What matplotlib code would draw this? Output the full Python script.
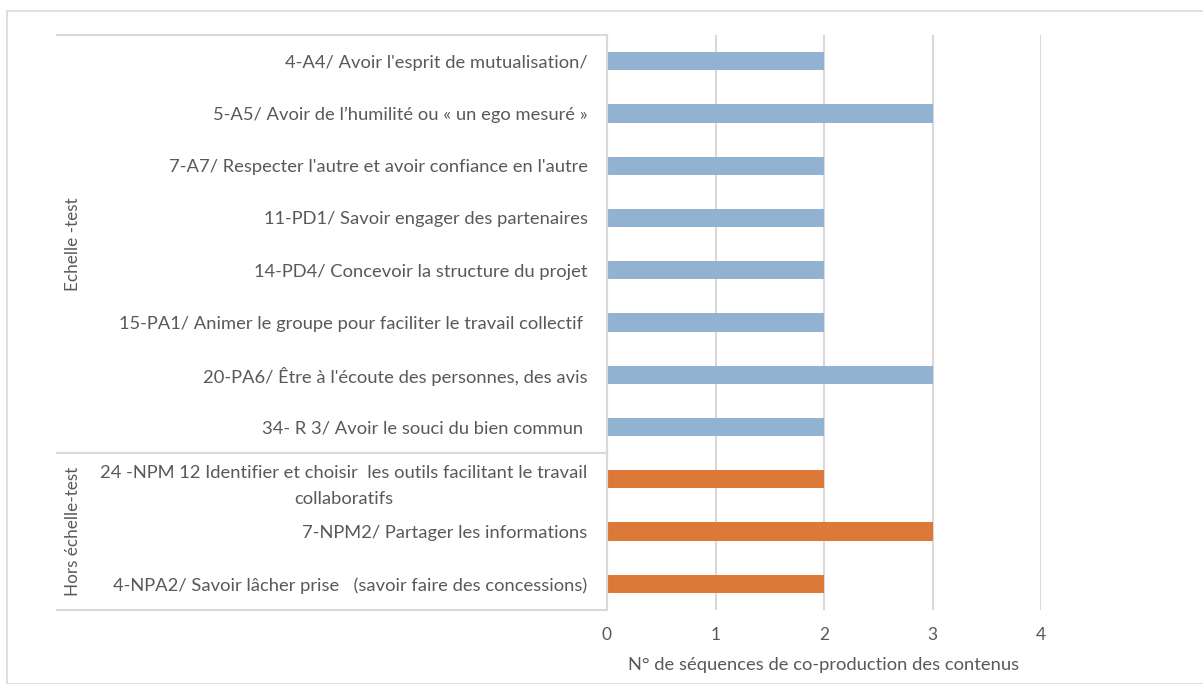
import numpy as np
import matplotlib.pyplot as plt
from matplotlib.patches import Rectangle
from matplotlib.transforms import blended_transform_factory

plt.rcParams["font.family"] = ["Lato", "DejaVu Sans"]

# --- Data (top to bottom, as shown) ---
LABELS = [
    "4-A4/ Avoir l'esprit de mutualisation/",
    "5-A5/ Avoir de l\u2019humilit\u00e9 ou \u00ab un ego mesur\u00e9 \u00bb",
    "7-A7/ Respecter l'autre et avoir confiance en l'autre",
    "11-PD1/ Savoir engager des partenaires",
    "14-PD4/ Concevoir la structure du projet",
    "15-PA1/ Animer le groupe pour faciliter le travail collectif ",
    "20-PA6/ \u00catre \u00e0 l'\u00e9coute des personnes, des avis",
    "34- R 3/ Avoir le souci du bien commun ",
    "24 -NPM 12 Identifier et choisir  les outils facilitant le travail\ncollaboratifs",
    "7-NPM2/ Partager les informations",
    "4-NPA2/ Savoir l\u00e2cher prise   (savoir faire des concessions)",
]
VALUES = [2, 3, 2, 2, 2, 2, 3, 2, 2, 3, 2]
GROUPS = ["Echelle -test", "Hors \u00e9chelle-test"]
GROUP_SIZES = [8, 3]

COLORS = {"Echelle -test": "#91B3D1", "Hors \u00e9chelle-test": "#DC7938"}
TEXT = "#595959"
LINE = "#D9D9D9"
FS = 13.2

fig = plt.figure(figsize=(12.03, 6.84), dpi=100)
ax = fig.add_axes([607 / 1203, 1 - 610 / 684, 434 / 1203, 575 / 684])

group_of = []
for g, n in zip(GROUPS, GROUP_SIZES):
    group_of += [g] * n
ypos = np.arange(len(LABELS))
ax.barh(ypos, VALUES, height=0.35, color=[COLORS[g] for g in group_of], zorder=3)

ax.set_ylim(len(LABELS) - 0.5, -0.5)
ax.set_xlim(0, 4)
ax.set_xticks(range(5))
ax.set_yticks(ypos)
ax.set_yticklabels(LABELS, multialignment="center", linespacing=1.75)
ax.tick_params(axis="y", length=0, pad=14, labelsize=FS, labelcolor=TEXT)
ax.tick_params(axis="x", length=0, pad=12, labelsize=12.5, labelcolor=TEXT)
ax.grid(axis="x", color=LINE, linewidth=1.5, zorder=0)
for side in ["top", "right", "bottom"]:
    ax.spines[side].set_visible(False)
ax.spines["left"].set_color(LINE)
ax.spines["left"].set_linewidth(1.5)
ax.spines["left"].set_zorder(4)
ax.set_xlabel("N\u00b0 de s\u00e9quences de co-production des contenus",
              fontsize=FS, color=TEXT, labelpad=10)

# group boxes on the category axis
tr = blended_transform_factory(fig.transFigure, ax.transData)
x0, x1 = 57 / 1203, 607 / 1203
start = -0.5
for g, n in zip(GROUPS, GROUP_SIZES):
    end = start + n
    for yb in (start, end):
        ax.plot([x0, x1], [yb, yb], transform=tr, color=LINE, lw=1.5, clip_on=False)
    ax.text(73 / 1203, (start + end) / 2, g, transform=tr, rotation=90,
            ha="center", va="center", fontsize=12.3, color=TEXT)
    start = end

# outer chart border
fig.add_artist(Rectangle((7 / 1203, 0.0), 1.0, 1 - 11 / 684, transform=fig.transFigure,
                         fill=False, edgecolor=LINE, linewidth=1.2))

fig.savefig("out.png", dpi=100)
